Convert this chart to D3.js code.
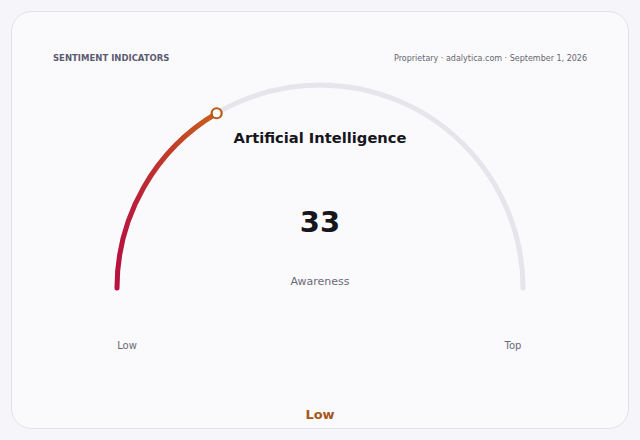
<!DOCTYPE html>
<html>
<head>
<meta charset="utf-8">
<script src="https://cdn.jsdelivr.net/npm/d3@7"></script>
<style>
  html, body { margin: 0; padding: 0; background: #f6f6fa; }
  svg { display: block; font-family: "DejaVu Sans", sans-serif; }
</style>
</head>
<body>
<div id="chart"></div>
<script>
// gauge data
const indicator = "Artificial Intelligence";
const metric = "Awareness";
const value = 33;
const domainRange = [0, 100];
const endLabels = ["Low", "Top"];
const bandLabel = "Low";
const headerLeft = "SENTIMENT INDICATORS";
const headerRight = "Proprietary · adalytica.com · September 1, 2026";

const width = 640, height = 440;

const svg = d3.select("#chart")
    .append("svg")
    .attr("width", width)
    .attr("height", height);

// card
svg.append("rect")
    .attr("x", 11.5).attr("y", 11.5)
    .attr("width", 617).attr("height", 417)
    .attr("rx", 20)
    .attr("fill", "#fafafd")
    .attr("stroke", "#e1e1ea");

svg.append("text")
    .attr("x", 53).attr("y", 61)
    .attr("font-size", 8.5)
    .attr("font-weight", "bold")
    .attr("fill", "#5c5c70")
    .text(headerLeft);

svg.append("text")
    .attr("x", 587).attr("y", 61)
    .attr("text-anchor", "end")
    .attr("font-size", 8)
    .attr("fill", "#66666e")
    .text(headerRight);

// gauge geometry
const cx = 320, cy = 288, r = 203;
// angle measured from the left end (0 = left, PI = right), going over the top
const angle = d3.scaleLinear()
    .domain(domainRange)
    .range([Math.PI, 2 * Math.PI]);

function arcPath(v0, v1) {
    const p = d3.path();
    const a0 = angle(v0), a1 = angle(v1);
    p.moveTo(cx + r * Math.cos(a0), cy + r * Math.sin(a0));
    p.arc(cx, cy, r, a0, a1, false);
    return p.toString();
}

const mx = cx + r * Math.cos(angle(value));
const my = cy + r * Math.sin(angle(value));

const defs = svg.append("defs");
const grad = defs.append("linearGradient")
    .attr("id", "valGrad")
    .attr("gradientUnits", "userSpaceOnUse")
    .attr("x1", cx - r).attr("y1", cy)
    .attr("x2", mx).attr("y2", cy);
grad.append("stop").attr("offset", "0%").attr("stop-color", "#b8123f");
grad.append("stop").attr("offset", "100%").attr("stop-color", "#c8621a");

// track
svg.append("path")
    .attr("d", arcPath(domainRange[0], domainRange[1]))
    .attr("fill", "none")
    .attr("stroke", "#e5e5eb")
    .attr("stroke-width", 5)
    .attr("stroke-linecap", "round");

// value
svg.append("path")
    .attr("d", arcPath(domainRange[0], value))
    .attr("fill", "none")
    .attr("stroke", "url(#valGrad)")
    .attr("stroke-width", 5)
    .attr("stroke-linecap", "round");

// marker
svg.append("circle")
    .attr("cx", mx)
    .attr("cy", my)
    .attr("r", 5)
    .attr("fill", "#ffffff")
    .attr("stroke", "#b85a16")
    .attr("stroke-width", 2.2);

// texts
svg.append("text")
    .attr("x", cx).attr("y", 143)
    .attr("text-anchor", "middle")
    .attr("font-size", 14.7)
    .attr("font-weight", "bold")
    .attr("fill", "#16161c")
    .text(indicator);

svg.append("text")
    .attr("x", cx).attr("y", 232)
    .attr("text-anchor", "middle")
    .attr("font-size", 29)
    .attr("font-weight", "bold")
    .attr("fill", "#16161c")
    .text(value);

svg.append("text")
    .attr("x", cx).attr("y", 285)
    .attr("text-anchor", "middle")
    .attr("font-size", 11)
    .attr("fill", "#6a6a76")
    .text(metric);

svg.selectAll(".endlabel")
    .data(endLabels)
    .join("text")
    .attr("class", "endlabel")
    .attr("x", (d, i) => cx + (i === 0 ? -1 : 1) * 193)
    .attr("y", 349)
    .attr("text-anchor", "middle")
    .attr("font-size", 10)
    .attr("fill", "#6a6a76")
    .text(d => d);

svg.append("text")
    .attr("x", cx).attr("y", 419)
    .attr("text-anchor", "middle")
    .attr("font-size", 13)
    .attr("font-weight", "bold")
    .attr("fill", "#a5561a")
    .text(bandLabel);
</script>
</body>
</html>
